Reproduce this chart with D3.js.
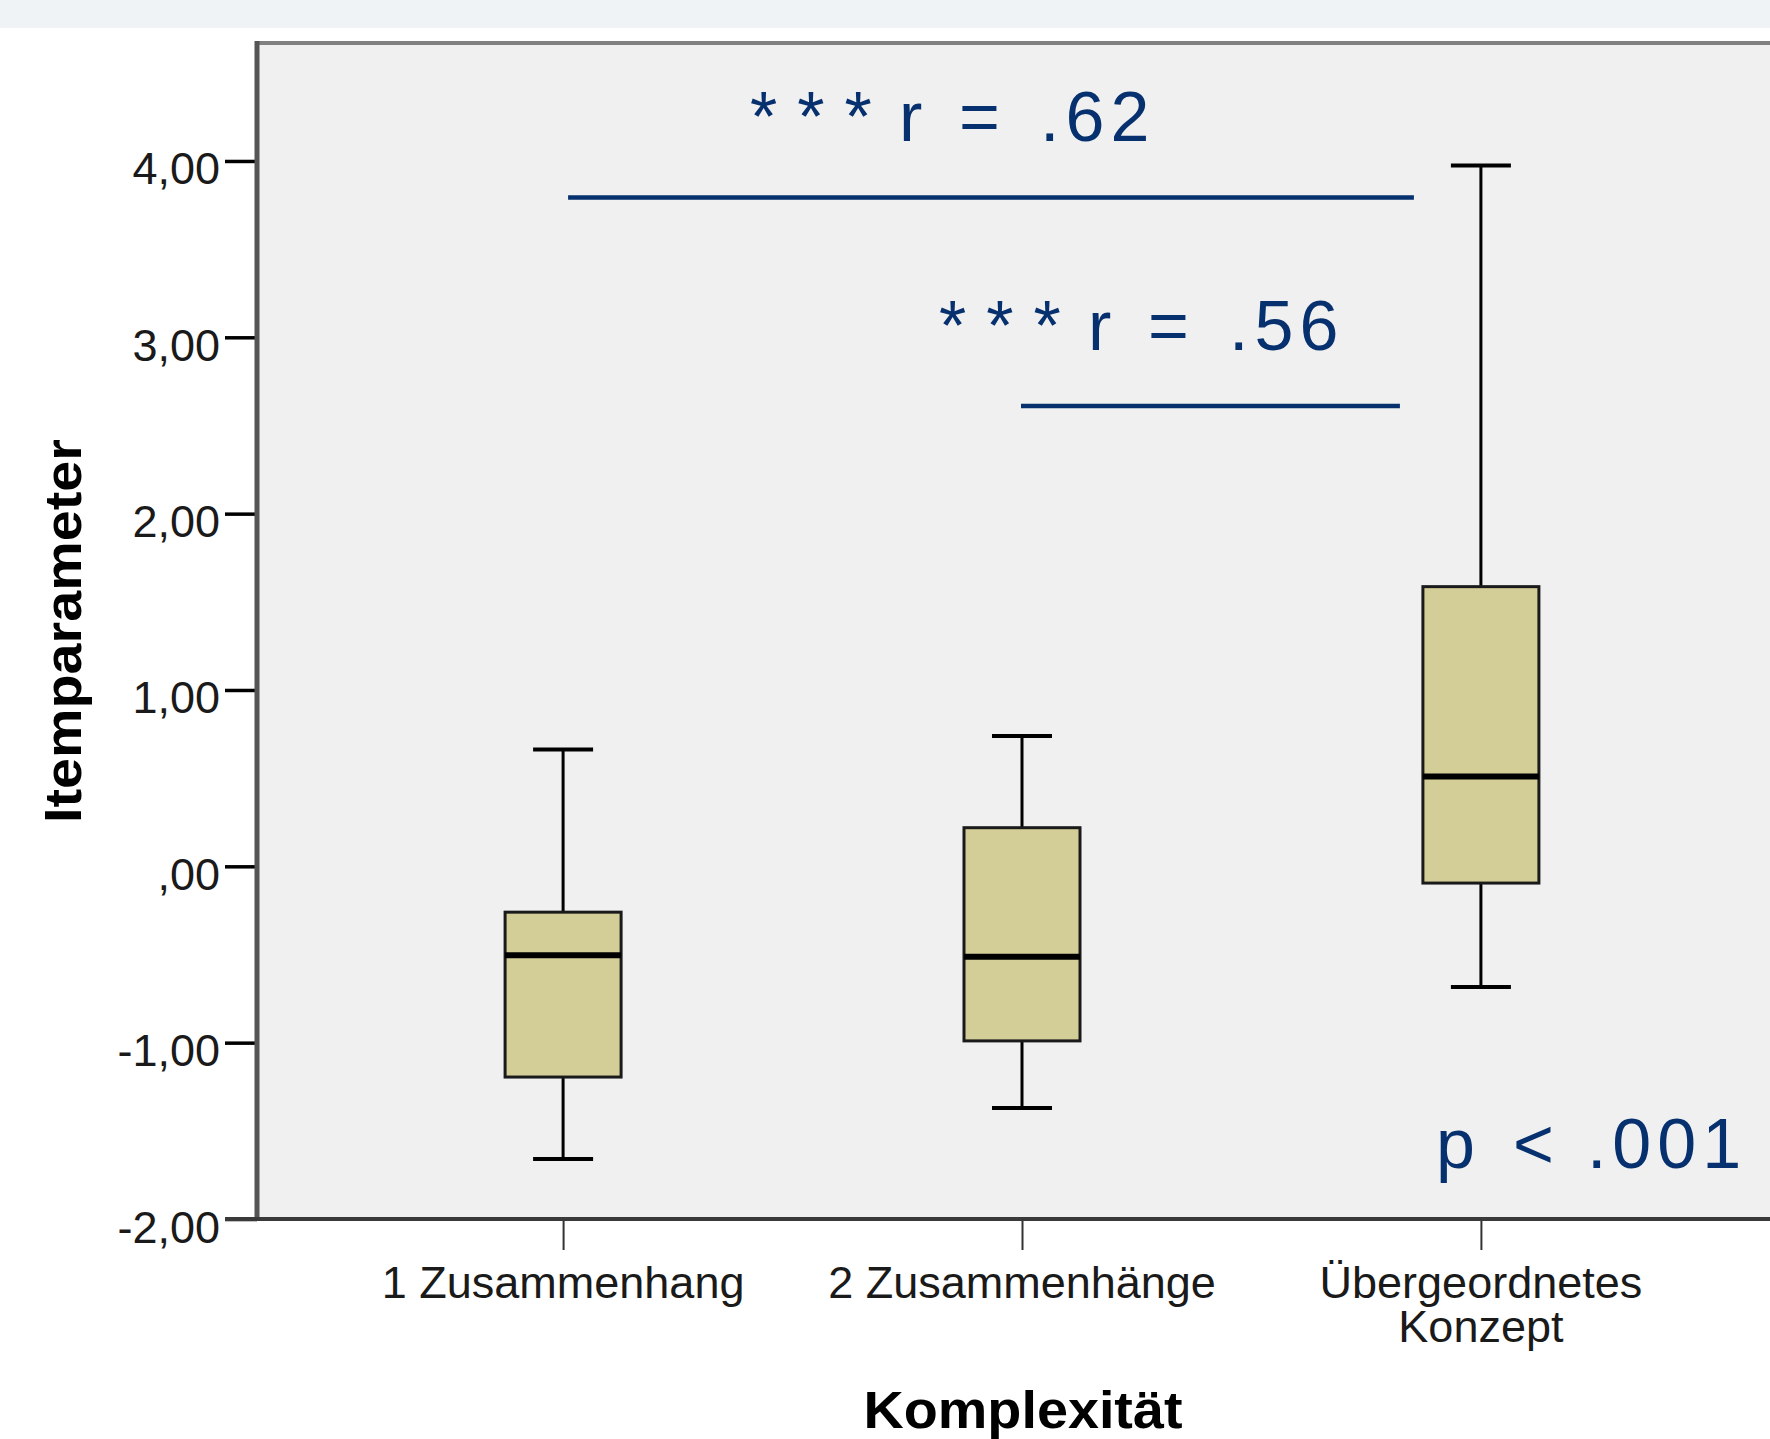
<!DOCTYPE html>
<html>
<head>
<meta charset="utf-8">
<script src="https://cdn.jsdelivr.net/npm/d3@7"></script>
<style>
  html, body { margin: 0; padding: 0; background: #ffffff; }
  svg { display: block; }
</style>
</head>
<body>
<svg id="chart" width="1770" height="1439"></svg>
<script>
// ---- data ----
const categories = ["1 Zusammenhang", "2 Zusammenhänge", "Übergeordnetes Konzept"];
const categoryLabelLines = [["1 Zusammenhang"], ["2 Zusammenhänge"], ["Übergeordnetes", "Konzept"]];
const whiskerLow  = [-1.66, -1.37, -0.685];
const quartile1   = [-1.195, -0.99, -0.095];
const medians     = [-0.505, -0.513, 0.51];
const quartile3   = [-0.26, 0.219, 1.586];
const whiskerHigh = [0.662, 0.739, 3.974];
const yTickValues = [-2, -1, 0, 1, 2, 3, 4];
const yTickLabels = ["-2,00", "-1,00", ",00", "1,00", "2,00", "3,00", "4,00"];
const brackets = [
  { from: 0, to: 2, level: 3.793, label: "*** r = .62" },
  { from: 1, to: 2, level: 2.611, label: "*** r = .56" }
];
const pLabel = "p < .001";
const pLevel = -1.711;
const yTitle = "Itemparameter";
const xTitle = "Komplexität";

(function () {
// ---- layout ----
const svg = d3.select("#chart");
const W = 1770;
const pLeft = 257, pRight = 1787, pTop = 43, pBottom = 1219;
const navy = "#06306e";
const font = "'Liberation Sans', Arial, sans-serif";

const y = d3.scaleLinear().domain([-2, 4.669]).range([pBottom, pTop]);
const x = d3.scalePoint().domain(categories).range([pLeft, pRight]).padding(0.667);

// top band
svg.append("rect").attr("x", 0).attr("y", 0).attr("width", W).attr("height", 28).attr("fill", "#eff3f6");

// plot background
svg.append("rect").attr("x", pLeft).attr("y", pTop).attr("width", pRight - pLeft + 50).attr("height", pBottom - pTop).attr("fill", "#f0f0f0");

// frame
svg.append("line").attr("x1", pLeft).attr("x2", W + 10).attr("y1", pTop).attr("y2", pTop)
  .attr("stroke", "#808080").attr("stroke-width", 4);

// y axis
const yAxis = d3.axisLeft(y).tickValues(yTickValues).tickSize(32).tickPadding(5)
  .tickFormat((d, i) => yTickLabels[i]);
const gy = svg.append("g").attr("transform", `translate(${pLeft},0)`).call(yAxis);
gy.select(".domain").remove();
gy.selectAll(".tick line").attr("stroke", "#000").attr("stroke-width", 3.5);
gy.selectAll(".tick text").attr("font-family", font).attr("font-size", 45).attr("fill", "#1a1a1a")
  .attr("dy", "23px");

// x axis ticks
const xAxis = d3.axisBottom(x).tickSize(31).tickFormat("");
const gx = svg.append("g").attr("transform", `translate(0,${pBottom})`).call(xAxis);
gx.select(".domain").remove();
gx.selectAll(".tick line").attr("stroke", "#333").attr("stroke-width", 2);

// axis lines
svg.append("line").attr("x1", pLeft).attr("x2", pLeft).attr("y1", pTop - 2).attr("y2", pBottom + 2)
  .attr("stroke", "#555").attr("stroke-width", 5);
svg.append("line").attr("x1", pLeft - 32).attr("x2", W + 10).attr("y1", pBottom).attr("y2", pBottom)
  .attr("stroke", "#3a3a3a").attr("stroke-width", 4);

// category labels
const labels = svg.append("g").selectAll("text").data(categories).join("text")
  .attr("x", d => x(d)).attr("y", 1298)
  .attr("text-anchor", "middle").attr("font-family", font).attr("font-size", 45).attr("fill", "#1a1a1a");
labels.each(function (d, i) {
  d3.select(this).selectAll("tspan").data(categoryLabelLines[i]).join("tspan")
    .attr("x", x(d)).attr("dy", (t, j) => j === 0 ? 0 : 44).text(t => t);
});

// boxes
const boxHalf = 58, capHalf = 30;
const boxes = svg.append("g").selectAll("g").data(categories).join("g");
boxes.append("line")
  .attr("x1", d => x(d)).attr("x2", d => x(d))
  .attr("y1", (d, i) => y(whiskerHigh[i])).attr("y2", (d, i) => y(quartile3[i]))
  .attr("stroke", "#000").attr("stroke-width", 3);
boxes.append("line")
  .attr("x1", d => x(d)).attr("x2", d => x(d))
  .attr("y1", (d, i) => y(quartile1[i])).attr("y2", (d, i) => y(whiskerLow[i]))
  .attr("stroke", "#000").attr("stroke-width", 3);
boxes.append("line")
  .attr("x1", d => x(d) - capHalf).attr("x2", d => x(d) + capHalf)
  .attr("y1", (d, i) => y(whiskerHigh[i])).attr("y2", (d, i) => y(whiskerHigh[i]))
  .attr("stroke", "#000").attr("stroke-width", 4);
boxes.append("line")
  .attr("x1", d => x(d) - capHalf).attr("x2", d => x(d) + capHalf)
  .attr("y1", (d, i) => y(whiskerLow[i])).attr("y2", (d, i) => y(whiskerLow[i]))
  .attr("stroke", "#000").attr("stroke-width", 4);
boxes.append("rect")
  .attr("x", d => x(d) - boxHalf).attr("width", boxHalf * 2)
  .attr("y", (d, i) => y(quartile3[i]))
  .attr("height", (d, i) => y(quartile1[i]) - y(quartile3[i]))
  .attr("fill", "#d3ce97").attr("stroke", "#1a1a1a").attr("stroke-width", 3);
boxes.append("line")
  .attr("x1", d => x(d) - boxHalf).attr("x2", d => x(d) + boxHalf)
  .attr("y1", (d, i) => y(medians[i])).attr("y2", (d, i) => y(medians[i]))
  .attr("stroke", "#000").attr("stroke-width", 6);

// annotation text: tokens of the label laid out with wide gaps
function tokenSpacing(tok) {
  if (/^\*+$/.test(tok)) return 20;
  if (/^[.\d]+$/.test(tok)) return 6;
  return 0;
}
function annot(tx, ty, str, offsets) {
  const t = svg.append("text").attr("x", tx).attr("y", ty)
    .attr("font-family", font).attr("font-size", 70).attr("fill", navy);
  str.split(" ").forEach((tok, k) => {
    t.append("tspan").attr("x", tx + offsets[k]).attr("letter-spacing", tokenSpacing(tok)).text(tok);
  });
}

// significance brackets
const bracketSpec = [
  { x1off: 5, x2off: -67, textOff: 182 },
  { x1off: -1, x2off: -81, textOff: -82 }
];
const tokenOffsets = [0, 149, 209, 290];
brackets.forEach((b, i) => {
  const s = bracketSpec[i];
  const x1 = x(categories[b.from]) + s.x1off;
  const x2 = x(categories[b.to]) + s.x2off;
  svg.append("line").attr("x1", x1).attr("x2", x2).attr("y1", y(b.level)).attr("y2", y(b.level))
    .attr("stroke", navy).attr("stroke-width", 4.5);
  annot(x1 + s.textOff, y(b.level) - 56, b.label, tokenOffsets);
});

annot(x(categories[2]) - 45, y(pLevel), pLabel, [0, 77, 151]);

// axis titles
svg.append("text").attr("transform", `translate(81,${(pTop + pBottom) / 2}) rotate(-90)`)
  .attr("text-anchor", "middle").attr("font-family", font).attr("font-weight", "bold")
  .attr("font-size", 52).attr("fill", "#000")
  .attr("textLength", 384).attr("lengthAdjust", "spacingAndGlyphs")
  .text(yTitle);
svg.append("text").attr("x", (pLeft + pRight) / 2 + 1).attr("y", 1428)
  .attr("text-anchor", "middle").attr("font-family", font).attr("font-weight", "bold")
  .attr("font-size", 51).attr("fill", "#000")
  .attr("textLength", 319).attr("lengthAdjust", "spacingAndGlyphs")
  .text(xTitle);
})();
</script>
</body>
</html>
